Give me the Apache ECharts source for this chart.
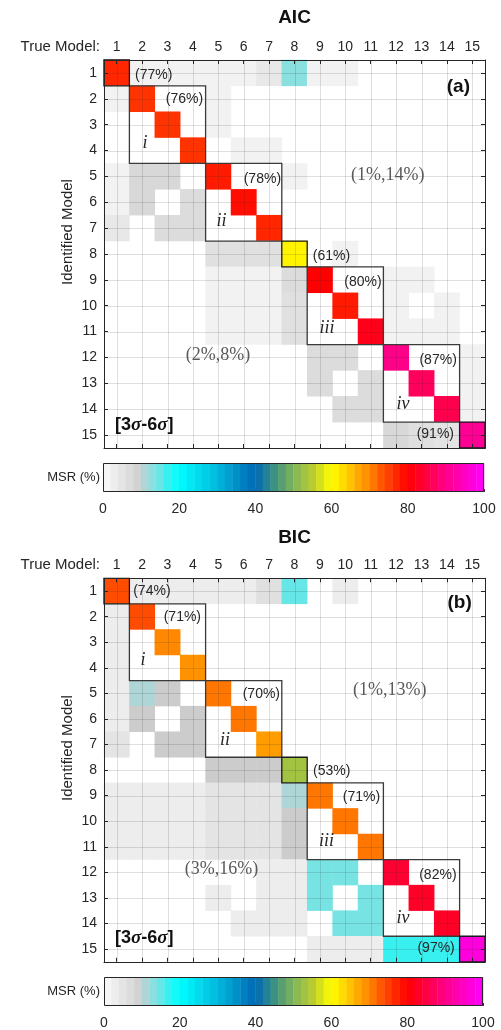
<!DOCTYPE html>
<html><head><meta charset="utf-8">
<script src="https://cdn.jsdelivr.net/npm/echarts/dist/echarts.min.js"></script>
<style>html,body{margin:0;padding:0;background:#fff}#c{width:501px;height:1030px}</style>
</head><body><div id="c"></div>
<script>
// ---------- data ----------
const models = ['1','2','3','4','5','6','7','8','9','10','11','12','13','14','15'];

// MSR (%) : rows = identified model 1..15, columns = true model 1..15
const aicMatrix = [
  [77, 2, 2, 2, 2, 2, 4,13, 2, 2, 0, 0, 0, 0, 0],
  [ 2,76, 0, 0, 2, 0, 0, 0, 0, 0, 0, 0, 0, 0, 0],
  [ 0, 0,76, 0, 2, 0, 0, 0, 0, 0, 0, 0, 0, 0, 0],
  [ 0, 0, 0,76, 0, 2, 2, 0, 0, 0, 0, 0, 0, 0, 0],
  [ 2, 8, 8, 0,78, 0, 0, 2, 0, 0, 0, 0, 0, 0, 0],
  [ 2, 8, 0, 7, 0,79, 0, 0, 0, 0, 0, 0, 0, 0, 0],
  [ 4, 0, 7, 7, 0, 0,77, 0, 0, 0, 0, 0, 0, 0, 0],
  [ 0, 0, 0, 0, 6, 6, 6,61, 0, 2, 0, 0, 0, 0, 0],
  [ 0, 0, 0, 0, 2, 2, 2, 7,80, 0, 0, 2, 2, 0, 0],
  [ 0, 0, 0, 0, 2, 2, 2, 6, 0,78, 0, 2, 0, 2, 0],
  [ 0, 0, 0, 0, 2, 2, 2, 6, 0, 0,82, 2, 2, 2, 0],
  [ 0, 0, 0, 0, 0, 0, 0, 0, 7, 7, 0,90, 0, 0, 2],
  [ 0, 0, 0, 0, 0, 0, 0, 0, 7, 0, 7, 0,87, 0, 2],
  [ 0, 0, 0, 0, 0, 0, 0, 0, 0, 7, 7, 0, 0,86, 2],
  [ 0, 0, 0, 0, 0, 0, 0, 0, 0, 0, 0, 8, 6, 5,91]
];
const bicMatrix = [
  [74, 3, 3, 3, 3, 3, 6,15, 0, 3, 0, 0, 0, 0, 0],
  [ 3,74, 0, 0, 0, 0, 0, 0, 0, 0, 0, 0, 0, 0, 0],
  [ 3, 0,70, 0, 0, 0, 0, 0, 0, 0, 0, 0, 0, 0, 0],
  [ 3, 0, 0,69, 0, 0, 0, 0, 0, 0, 0, 0, 0, 0, 0],
  [ 3,11,10, 0,71, 0, 0, 0, 0, 0, 0, 0, 0, 0, 0],
  [ 3,10, 0,10, 0,71, 0, 0, 0, 0, 0, 0, 0, 0, 0],
  [ 5, 0,10,10, 0, 0,68, 0, 0, 0, 0, 0, 0, 0, 0],
  [ 0, 0, 0, 0,10,10,10,53, 0, 0, 0, 0, 0, 0, 0],
  [ 3, 3, 3, 3, 5, 5, 5,11,71, 0, 0, 0, 0, 0, 0],
  [ 3, 3, 3, 3, 5, 5, 5,10, 0,71, 0, 0, 0, 0, 0],
  [ 3, 3, 3, 3, 5, 5, 5,10, 0, 0,71, 0, 0, 0, 0],
  [ 0, 0, 0, 0, 0, 0, 3, 3,14,14, 0,84, 0, 0, 0],
  [ 0, 0, 0, 0, 3, 0, 3, 3,14, 0,14, 0,83, 0, 0],
  [ 0, 0, 0, 0, 0, 3, 3, 3, 0,14,14, 0, 0,83, 0],
  [ 0, 0, 0, 0, 0, 0, 0, 0, 3, 3, 3,17,17,17,97]
];

const colorbarTicks = [0, 20, 40, 60, 80, 100];
// model groups (1-based, inclusive) outlined on the diagonal
const groupRanges = [[2,4],[5,7],[9,11],[12,14]];
const singleModels = [1, 8, 15];

const aicLabels = ['(77%)','(76%)','i','(78%)','ii','(61%)','(80%)','iii','(87%)','iv','(91%)','(1%,14%)','(2%,8%)'];
const bicLabels = ['(74%)','(71%)','i','(70%)','ii','(53%)','(71%)','iii','(82%)','iv','(97%)','(1%,13%)','(3%,16%)'];

// ---------- colour map ----------
const cmapStops = [
  [0,'#ffffff'],[1,'#f6f6f6'],[2,'#f2f2f2'],[4,'#e8e8e8'],[6,'#e0e0e0'],[8,'#d8d8d8'],
  [10,'#cccccc'],[10.9,'#c8c8c8'],[11,'#aed6d6'],[13,'#8adfdf'],[15,'#66e6e6'],[17,'#38f0f0'],
  [20,'#00ffff'],[30,'#00b8dc'],[40,'#0068b4'],[44,'#2e8a8a'],[50,'#80b45a'],[55,'#b8cc30'],
  [60,'#ffff00'],[65,'#ffc400'],[68,'#ff9c00'],[70,'#ff8800'],[72,'#ff6400'],[75,'#ff4000'],
  [80,'#ff0000'],[85,'#ff0040'],[90,'#ff0088'],[95,'#ff00c4'],[100,'#ff00ff']
];
function h2r(h){return [parseInt(h.slice(1,3),16),parseInt(h.slice(3,5),16),parseInt(h.slice(5,7),16)];}
function cmap(v){
  if (v <= cmapStops[0][0]) return cmapStops[0][1];
  for (let i = 1; i < cmapStops.length; i++) {
    if (v <= cmapStops[i][0]) {
      const a = h2r(cmapStops[i-1][1]), b = h2r(cmapStops[i][1]);
      const t = (v - cmapStops[i-1][0]) / (cmapStops[i][0] - cmapStops[i-1][0]);
      return 'rgb(' + a.map((x,k)=>Math.round(x + (b[k]-x)*t)).join(',') + ')';
    }
  }
  return cmapStops[cmapStops.length-1][1];
}

// ---------- layout (pixels / cell-unit offsets) ----------
const SANS = '"Liberation Sans", Arial, Helvetica, sans-serif';
const SERIF = '"Liberation Serif", "Times New Roman", serif';
const INK = '#262626';
const panels = [
  { matrix: aicMatrix, labels: aicLabels, title: 'AIC', tag: '(a)', top: 60, height: 388, cbTop: 463, cbLeft: 103, cbWidth: 381,
    pos: [[0.72,0.08,'left'],[3.40,1.0,'right'],[1.11,2.71,'center'],[6.47,4.1,'right'],[4.13,5.75,'center'],[7.72,7.1,'left'],
          [10.43,8.1,'right'],[8.28,9.86,'center'],[13.39,11.1,'right'],[11.27,12.8,'center'],[13.28,13.96,'right'],
          [10.67,3.95,'center'],[3.99,10.9,'center']],
    sig: [-0.07,13.6], tagPos: [13.91,0.53] },
  { matrix: bicMatrix, labels: bicLabels, title: 'BIC', tag: '(b)', top: 578.3, height: 383.5, cbTop: 977, cbLeft: 104, cbWidth: 379,
    pos: [[0.65,0.02,'left'],[3.32,1.0,'right'],[1.04,2.70,'center'],[6.43,4.05,'right'],[4.26,5.82,'center'],[7.73,7.06,'left'],
          [10.37,8.05,'right'],[8.26,9.8,'center'],[13.38,11.1,'right'],[11.27,12.78,'center'],[13.31,13.96,'right'],
          [10.75,3.87,'center'],[4.13,10.9,'center']],
    sig: [-0.07,13.57], tagPos: [13.98,0.47] }
];
const PLOT_LEFT = 104, PLOT_WIDTH = 381;

function catPt(api, fx, fy){
  const ix = Math.round(fx), iy = Math.round(fy);
  const c = api.coord([ix, iy]);
  const s = api.size([1, 1]);
  return [c[0] + (fx - ix) * s[0], c[1] + (fy - iy) * s[1]];
}

const option = { animation: false, backgroundColor: '#fff', grid: [], xAxis: [], yAxis: [], series: [], graphic: [] };

panels.forEach((p, pi) => {
  const g = option.grid.length;
  option.grid.push({ left: PLOT_LEFT, top: p.top, width: PLOT_WIDTH, height: p.height, show: false });
  option.grid.push({ left: p.cbLeft, top: p.cbTop, width: p.cbWidth, height: 29, show: false });
  const xa = option.xAxis.length, ya = option.yAxis.length;
  const catAxis = (pos, labels) => ({
    type: 'category', data: models, gridIndex: g, position: pos, z: 10,
    axisLine: { show: true, lineStyle: { color: INK, width: 1 } },
    axisTick: { show: true, inside: true, alignWithLabel: true, length: 4, lineStyle: { color: INK } },
    axisLabel: labels ? { show: true, color: INK, fontSize: 14, fontFamily: SANS, margin: pos === 'top' ? 6 : 7 } : { show: false },
    splitLine: { show: false }
  });
  option.xAxis.push(catAxis('top', true), catAxis('bottom', false));
  const ly = catAxis('left', true); ly.inverse = true;
  const ry = catAxis('right', false); ry.inverse = true;
  option.yAxis.push(ly, ry);
  // colorbar axes
  option.xAxis.push({ type: 'value', gridIndex: g + 1, min: 0, max: 100, interval: 20, position: 'bottom',
    axisLine: { show: false }, splitLine: { show: false },
    axisTick: { show: true, inside: true, length: 3, lineStyle: { color: INK } },
    axisLabel: { color: INK, fontSize: 14, fontFamily: SANS, margin: 10,
      customValues: colorbarTicks } });
  option.yAxis.push({ type: 'value', gridIndex: g + 1, min: 0, max: 1, show: false });

  // cells
  const cells = [];
  p.matrix.forEach((row, r) => row.forEach((v, c) => { if (v > 0) cells.push([c, r, v]); }));
  option.series.push({
    type: 'custom', xAxisIndex: xa, yAxisIndex: ya, z: 1, clip: false, data: cells,
    renderItem: (params, api) => {
      const c = api.coord([api.value(0), api.value(1)]);
      const s = api.size([1, 1]);
      return { type: 'rect', shape: { x: c[0] - s[0]/2 - 0.25, y: c[1] - s[1]/2 - 0.25, width: s[0] + 0.5, height: s[1] + 0.5 },
        style: { fill: cmap(api.value(2)) } };
    }
  });
  // grid lines through cell centres
  option.series.push({
    type: 'custom', xAxisIndex: xa, yAxisIndex: ya, z: 2, clip: false, silent: true,
    data: models.map((m, i) => [i, i]),
    renderItem: (params, api) => {
      const cs = params.coordSys;
      const c = api.coord([api.value(0), api.value(1)]);
      const st = { stroke: 'rgba(38,38,38,0.15)', lineWidth: 1 };
      return { type: 'group', children: [
        { type: 'line', shape: { x1: Math.round(c[0]) + 0.5, y1: cs.y, x2: Math.round(c[0]) + 0.5, y2: cs.y + cs.height }, style: st },
        { type: 'line', shape: { x1: cs.x, y1: Math.round(c[1]) + 0.5, x2: cs.x + cs.width, y2: Math.round(c[1]) + 0.5 }, style: st }
      ] };
    }
  });
  // outlined groups on diagonal
  const boxes = groupRanges.map(b => [b[0]-1, b[1]-1, 0]).concat(singleModels.map(m => [m-1, m-1, 1]));
  option.series.push({
    type: 'custom', xAxisIndex: xa, yAxisIndex: ya, z: 3, clip: false, silent: true, data: boxes,
    renderItem: (params, api) => {
      const a = api.coord([api.value(0), api.value(0)]);
      const b = api.coord([api.value(1), api.value(1)]);
      const s = api.size([1, 1]);
      const single = api.value(2) === 1;
      return { type: 'rect', shape: { x: a[0] - s[0]/2, y: a[1] - s[1]/2, width: b[0] - a[0] + s[0], height: b[1] - a[1] + s[1] },
        style: { fill: null, stroke: single ? '#1a1a1a' : '#3a3a3a', lineWidth: 1.3 } };
    }
  });
  // annotations
  option.series.push({
    type: 'custom', xAxisIndex: xa, yAxisIndex: ya, z: 4, clip: false, silent: true,
    data: p.labels.map((t, i) => [Math.round(p.pos[i][0]), Math.round(p.pos[i][1])]),
    renderItem: (params, api) => {
      const i = params.dataIndex, t = p.labels[i], ps = p.pos[i];
      const pt = catPt(api, ps[0], ps[1]);
      const roman = /^i+v?$|^iv$/.test(t);
      const range = t.indexOf(',') > 0;
      let font, fill = INK;
      if (roman) font = 'italic 18px ' + SERIF;
      else if (range) { font = '18px ' + SERIF; fill = '#5a5a5a'; }
      else font = '14px ' + SANS;
      return { type: 'text', x: pt[0], y: pt[1],
        style: { text: t, font: font, fill: fill, align: ps[2], verticalAlign: 'middle' } };
    }
  });
  // sigma-range tag and panel tag
  option.series.push({
    type: 'custom', xAxisIndex: xa, yAxisIndex: ya, z: 4, clip: false, silent: true,
    data: [[0, 13], [14, 0]],
    renderItem: (params, api) => {
      if (params.dataIndex === 0) {
        const pt = catPt(api, p.sig[0], p.sig[1]);
        return { type: 'text', x: pt[0], y: pt[1], style: {
          text: '{b|[3}{s|σ}{b|-6}{s|σ}{b|]}', align: 'left', verticalAlign: 'middle',
          rich: { b: { fontFamily: SANS, fontWeight: 'bold', fontSize: 18, fill: '#111' },
                  s: { fontFamily: SERIF, fontStyle: 'italic', fontWeight: 'bold', fontSize: 19, fill: '#111' } } } };
      }
      const pt = catPt(api, p.tagPos[0], p.tagPos[1]);
      return { type: 'text', x: pt[0], y: pt[1], style: { text: p.tag, font: 'bold 19px ' + SANS, fill: '#111', align: 'right', verticalAlign: 'middle' } };
    }
  });
  // colorbar bins
  const bins = [];
  for (let k = 0; k < 50; k++) bins.push([k * 2, k * 2 + 2, 0.5]);
  option.series.push({
    type: 'custom', xAxisIndex: xa + 2, yAxisIndex: ya + 2, z: 1, clip: false, silent: true,
    encode: { x: [0, 1], y: 2 }, data: bins,
    renderItem: (params, api) => {
      const a = api.coord([api.value(0), 1]);
      const b = api.coord([api.value(1), 0]);
      return { type: 'rect', shape: { x: a[0] - 0.2, y: a[1], width: b[0] - a[0] + 0.4, height: b[1] - a[1] },
        style: { fill: cmap((api.value(0) + api.value(1)) / 2) } };
    }
  });
  option.series.push({
    type: 'custom', xAxisIndex: xa + 2, yAxisIndex: ya + 2, z: 3, clip: false, silent: true,
    encode: { x: [0, 1], y: 2 }, data: [[0, 100, 0.5]],
    renderItem: (params, api) => {
      const a = api.coord([0, 1]), b = api.coord([100, 0]);
      return { type: 'rect', shape: { x: a[0] + 0.5, y: a[1] + 0.5, width: b[0] - a[0] - 1, height: b[1] - a[1] - 1 },
        style: { fill: null, stroke: INK, lineWidth: 1 } };
    }
  });

  // chrome text
  const titleY = pi === 0 ? 18 : 538;
  const tmY = p.top - 13;
  option.graphic.push(
    { type: 'text', x: PLOT_LEFT + PLOT_WIDTH / 2, y: titleY, style: { text: p.title, font: 'bold 19px ' + SANS, fill: '#111', align: 'center', verticalAlign: 'middle' } },
    { type: 'text', x: 100, y: tmY, style: { text: 'True Model:', font: '15px ' + SANS, fill: INK, align: 'right', verticalAlign: 'middle' } },
    { type: 'text', x: 68, y: p.top + p.height / 2 - 22, rotation: Math.PI / 2, style: { text: 'Identified Model', font: '15px ' + SANS, fill: INK, align: 'center', verticalAlign: 'middle' } },
    { type: 'text', x: 100, y: p.cbTop + 14.5, style: { text: 'MSR (%)', font: '13px ' + SANS, fill: INK, align: 'right', verticalAlign: 'middle' } }
  );
});

const chart = echarts.init(document.getElementById('c'), null, { renderer: 'canvas' });
chart.setOption(option);
</script>
</body></html>
